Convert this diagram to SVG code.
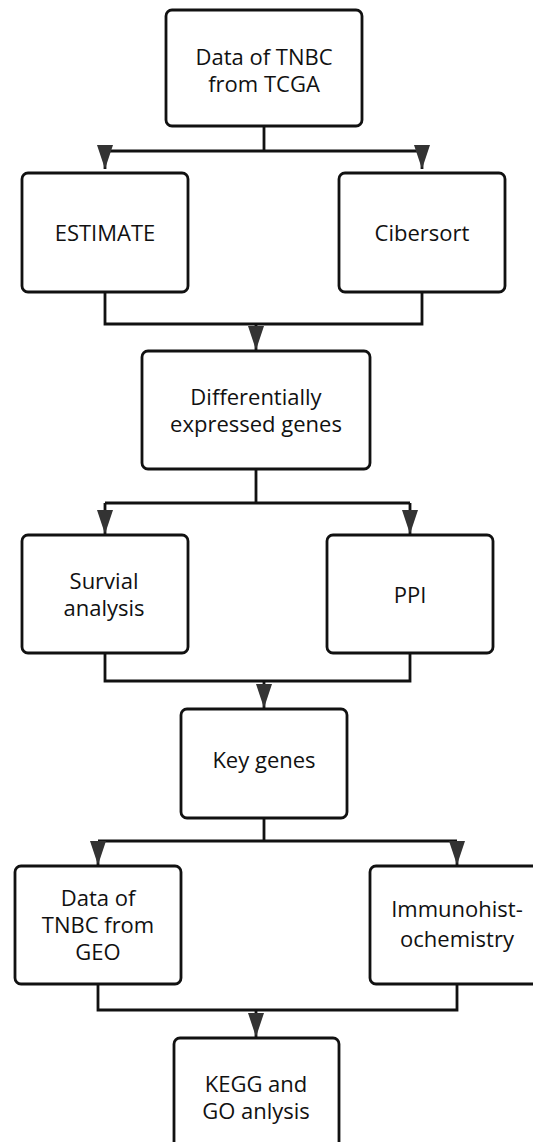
<svg xmlns="http://www.w3.org/2000/svg" width="533" height="1142" viewBox="0 0 533 1142">
<style>
.box{fill:#fff;stroke:#111;stroke-width:2.8}
.lbl{font-family:"Open Sans","Noto Sans",sans-serif;font-size:22px;fill:#111;text-anchor:middle}
.ln{fill:none;stroke:#111;stroke-width:2.8}
</style>
<defs>
<marker id="ah" markerUnits="userSpaceOnUse" markerWidth="24" markerHeight="16" refX="24" refY="8" orient="auto">
<path d="M0,0 L24,8 L0,16 z" fill="#333"/>
</marker>
</defs>
<rect width="533" height="1142" fill="#fff"/>
<g id="connectors">
<path class="ln" d="M264,126 V151 M105,151 H422"/>
<path class="ln" d="M105,151 V169" marker-end="url(#ah)"/>
<path class="ln" d="M422,151 V169" marker-end="url(#ah)"/>
<path class="ln" d="M105,292 V324 H422 V292"/>
<path class="ln" d="M256,324 V350" marker-end="url(#ah)"/>
<path class="ln" d="M256,469 V503 M105,503 H410"/>
<path class="ln" d="M105,503 V534" marker-end="url(#ah)"/>
<path class="ln" d="M410,503 V534" marker-end="url(#ah)"/>
<path class="ln" d="M105,653 V681 H410 V653"/>
<path class="ln" d="M264,681 V708" marker-end="url(#ah)"/>
<path class="ln" d="M264,818 V841 M98,841 H457"/>
<path class="ln" d="M98,841 V865" marker-end="url(#ah)"/>
<path class="ln" d="M457,841 V865" marker-end="url(#ah)"/>
<path class="ln" d="M98,984 V1010 H457 V984"/>
<path class="ln" d="M256,1010 V1037" marker-end="url(#ah)"/>
</g>
<g id="n_tcga">
<rect class="box" x="166" y="10" width="196" height="116" rx="6"/>
<text class="lbl" x="264" y="65">Data of TNBC</text>
<text class="lbl" x="264" y="92">from TCGA</text>
</g>
<g id="n_estimate">
<rect class="box" x="22" y="173" width="166" height="119" rx="6"/>
<text class="lbl" x="105" y="241">ESTIMATE</text>
</g>
<g id="n_cibersort">
<rect class="box" x="339" y="173" width="166" height="119" rx="6"/>
<text class="lbl" x="422" y="241">Cibersort</text>
</g>
<g id="n_deg">
<rect class="box" x="142" y="351" width="228" height="118" rx="6"/>
<text class="lbl" x="256" y="405">Differentially</text>
<text class="lbl" x="256" y="432">expressed genes</text>
</g>
<g id="n_survival">
<rect class="box" x="22" y="535" width="166" height="118" rx="6"/>
<text class="lbl" x="104" y="589">Survial</text>
<text class="lbl" x="104" y="616">analysis</text>
</g>
<g id="n_ppi">
<rect class="box" x="327" y="535" width="166" height="118" rx="6"/>
<text class="lbl" x="410" y="603">PPI</text>
</g>
<g id="n_key">
<rect class="box" x="181" y="709" width="166" height="109" rx="6"/>
<text class="lbl" x="264" y="768">Key genes</text>
</g>
<g id="n_geo">
<rect class="box" x="15" y="866" width="166" height="118" rx="6"/>
<text class="lbl" x="98" y="906">Data of</text>
<text class="lbl" x="98" y="933">TNBC from</text>
<text class="lbl" x="98" y="960">GEO</text>
</g>
<g id="n_ihc">
<rect class="box" x="370" y="866" width="170" height="118" rx="6"/>
<text class="lbl" x="457" y="917">Immunohist-</text>
<text class="lbl" x="457" y="947">ochemistry</text>
</g>
<g id="n_kegg">
<rect class="box" x="174" y="1038" width="165" height="120" rx="6"/>
<text class="lbl" x="256" y="1092">KEGG and</text>
<text class="lbl" x="256" y="1119">GO anlysis</text>
</g>
</svg>
